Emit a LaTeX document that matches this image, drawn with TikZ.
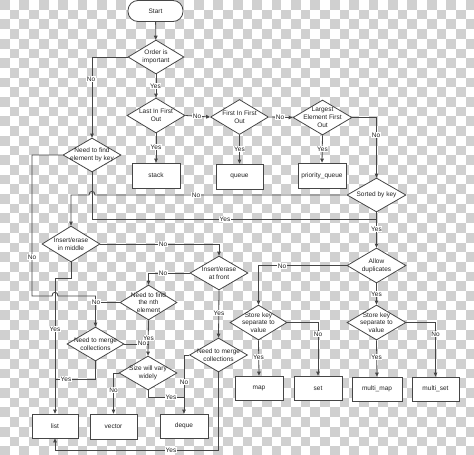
\documentclass[tikz,border=0pt]{standalone}
\usepackage{fontspec}
\setmainfont{Liberation Sans}
\usetikzlibrary{shapes.geometric,arrows.meta}
\definecolor{chk}{RGB}{208,208,208}
\definecolor{linec}{RGB}{70,70,70}
\definecolor{txtc}{RGB}{35,35,35}
\begin{document}
\begin{tikzpicture}[x=1pt,y=-1pt,font=\fontsize{6.5}{7.8}\selectfont,text=txtc,
  dia/.style={diamond,draw=linec,fill=white,line width=0.8pt,minimum width=58pt,minimum height=35pt,inner sep=0pt},
  dtext/.style={align=center,inner sep=0pt,text=txtc},
  box/.style={rectangle,draw=linec,fill=white,line width=0.8pt,minimum width=48pt,minimum height=25pt,inner sep=0pt},
  lab/.style={fill=white,inner sep=0.6pt,text=txtc},
  conn/.style={draw=linec,line width=0.8pt},
  arr/.style={conn,-{Triangle[length=4pt,width=3.6pt]}}]
\useasboundingbox (0,0) rectangle (474,455);
\fill[white] (0,0) rectangle (474,455);
\begin{scope}
\clip (0,0) rectangle (474,455);
\foreach \i in {0,...,48}{
  \foreach \j in {0,...,47}{
    \pgfmathtruncatemacro\p{mod(\i+\j,2)}
    \ifnum\p=0 \fill[chk] (\i*9.7,\j*9.7) rectangle ++(9.7,9.7);\fi
  }
}
\end{scope}

% nodes
\node[draw=linec,fill=white,line width=0.8pt,rounded corners=10pt,minimum width=55pt,minimum height=21pt,inner sep=0pt] (start) at (155.5,11) {Start};
\node[dia,minimum width=56pt,minimum height=34pt,label={[dtext]center:Order is\\important}] (order) at (156,57) {};
\node[dia,label={[dtext]center:Last In First\\Out}] (lifo) at (156,115.5) {};
\node[dia,label={[dtext]center:First In First\\Out}] (fifo) at (239.5,117) {};
\node[dia,minimum width=59pt,label={[dtext]center:Largest\\Element First\\Out}] (lpq) at (322.5,117.5) {};
\node[box] (stack) at (156,175.5) {stack};
\node[box,minimum width=47pt] (queue) at (239.5,176.5) {queue};
\node[box] (pq) at (322,175.5) {priority\_queue};
\node[dia,minimum height=34pt,label={[dtext]center:Need to find\\element by key}] (nkey) at (92,155) {};
\node[dia,minimum width=59pt,minimum height=34pt,label={[dtext]center:Sorted by key}] (sorted) at (376.5,195) {};
\node[dia,minimum height=36pt,label={[dtext]center:Insert/erase\\in middle}] (mid) at (71,244) {};
\node[dia,minimum height=34pt,label={[dtext]center:Insert/erase\\at front}] (front) at (219,273) {};
\node[dia,minimum width=57pt,label={[dtext]center:Need to find\\the nth\\element}] (nth) at (148.5,302.5) {};
\node[dia,minimum width=57pt,minimum height=34pt,label={[dtext]center:Need to merge\\collections}] (mergeL) at (95.5,344) {};
\node[dia,minimum height=34pt,label={[dtext]center:Need to merge\\collections}] (mergeR) at (218.5,355) {};
\node[dia,minimum height=34pt,label={[dtext]center:Size will vary\\widely}] (size) at (148,373) {};
\node[dia,minimum width=59pt,label={[dtext]center:Allow\\duplicates}] (allow) at (376.5,265.5) {};
\node[dia,minimum width=57pt,label={[dtext]center:Store key\\separate to\\value}] (storeL) at (258.5,322.5) {};
\node[dia,minimum width=59pt,label={[dtext]center:Store key\\separate to\\value}] (storeR) at (376.5,322.5) {};
\node[box,minimum width=46pt,minimum height=24pt] (list) at (55,426) {list};
\node[box,minimum width=47pt] (vector) at (113.5,426.5) {vector};
\node[box,minimum height=24pt] (deque) at (184,426) {deque};
\node[box,minimum height=24pt] (map) at (259,388) {map};
\node[box,minimum height=24pt] (set) at (318,388) {set};
\node[box,minimum width=50pt,minimum height=24pt] (mmap) at (377,389) {multi\_map};
\node[box,minimum width=47pt,minimum height=24pt] (mset) at (435.5,389) {multi\_set};

% coordinates
\coordinate (j1) at (376.5,219);
\coordinate (c1) at (32,296);
\coordinate (c2) at (71,278);
\coordinate (c3) at (55,379);
\coordinate (c4) at (218.5,450);
\coordinate (c5) at (184,397);

% connectors
\draw[arr] (start) -- (order);
\draw[arr] (order.west) -| (nkey.north);
\draw[arr] (order.south) -- (lifo.north);
\draw[arr] (lifo.east) -- (fifo.west);
\draw[arr] (fifo.east) -- (lpq.west);
\draw[arr] (lifo.south) -- (stack.north);
\draw[arr] (fifo.south) -- (queue.north);
\draw[arr] (lpq.south) -- (pq.north);
\draw[arr] (lpq.east) -| (sorted.north);
\draw[conn] (nkey.south) |- (j1);
\draw[arr] (sorted.south) -- (allow.north);
\draw[arr] (sorted.west) -- (95,195) .. controls (95,190) and (89,190) .. (89,195) -- (mid.north |- sorted.west) -- (mid.north);
\draw[arr] (nkey.west) -| (c1) -- (52,296) .. controls (52,291) and (58,291) .. (58,296) -- (mergeL.north |- c1) -- (mergeL.north);
\draw[arr] (mid.south) -- (c2) -| (list.north);
\draw[arr] (mid.east) -| (front.north);
\draw[arr] (front.west) -| (nth.north);
\draw[arr] (front.south) -- (mergeR.north);
\draw[conn] (nth.west) -- (mergeL.north |- nth.west);
\draw[arr] (nth.south) -- (size.north);
\draw[conn] (mergeL.east) -- (nth.south |- mergeL.east);
\draw[conn] (mergeL.south) |- (c3);
\draw[arr] (size.west) -| (vector.north);
\draw[conn] (size.south) |- (c5);
\draw[arr] (mergeR.west) -| (deque.north);
\draw[arr] (mergeR.south) -- (c4) -| (list.south);
\draw[arr] (allow.west) -| (storeL.north);
\draw[arr] (allow.south) -- (storeR.north);
\draw[arr] (storeL.south) -- (map.north);
\draw[arr] (storeL.east) -| (set.north);
\draw[arr] (storeR.south) -- (mmap.north);
\draw[arr] (storeR.east) -| (mset.north);

% labels
\node[lab] (l1) at (91,79) {No};
\node[lab] (l2) at (155.5,86) {Yes};
\node[lab] (l3) at (197,116) {No};
\node[lab] (l4) at (280,117) {No};
\node[lab] (l5) at (156,147) {Yes};
\node[lab] (l6) at (239.5,149) {Yes};
\node[lab] (l7) at (322.5,149) {Yes};
\node[lab] (l8) at (376,135) {No};
\node[lab] (l9) at (225,219) {Yes};
\node[lab] (l10) at (376.5,229) {Yes};
\node[lab] (l11) at (196,195) {No};
\node[lab] (l12) at (32,257) {No};
\node[lab] (l13) at (55,329) {Yes};
\node[lab] (l14) at (163,244) {No};
\node[lab] (l15) at (163,273) {No};
\node[lab] (l16) at (219,313) {Yes};
\node[lab] (l17) at (96,302) {No};
\node[lab] (l18) at (148.5,338) {Yes};
\node[lab] (l19) at (142,343.5) {No};
\node[lab] (l20) at (66,379) {Yes};
\node[lab] (l21) at (113.5,390) {No};
\node[lab] (l22) at (171,397) {Yes};
\node[lab] (l23) at (184,382) {No};
\node[lab] (l24) at (171,450) {Yes};
\node[lab] (l25) at (282,266) {No};
\node[lab] (l26) at (376.5,294) {Yes};
\node[lab] (l27) at (258.5,357) {Yes};
\node[lab] (l28) at (318,334) {No};
\node[lab] (l29) at (376.5,357) {Yes};
\node[lab] (l30) at (435.5,334) {No};
\end{tikzpicture}
\end{document}
